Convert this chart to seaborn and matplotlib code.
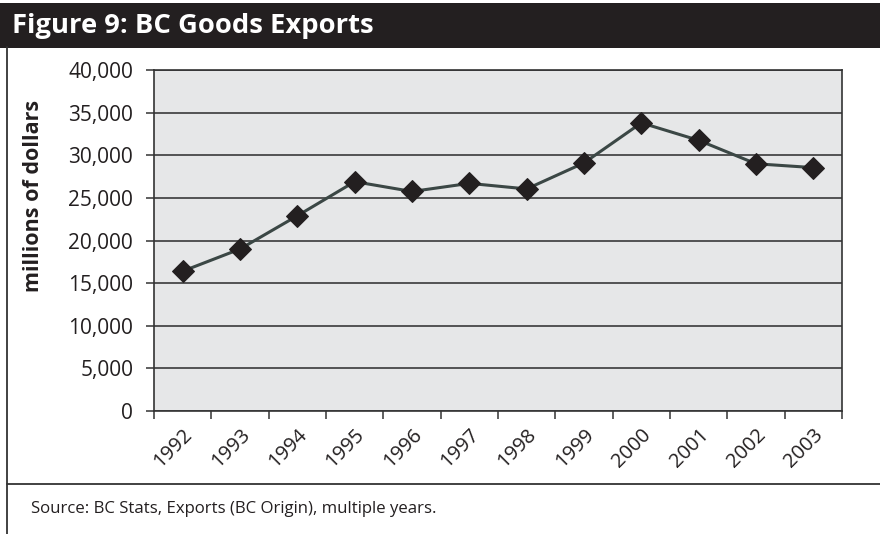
import matplotlib
matplotlib.use("Agg")
import matplotlib.pyplot as plt
from matplotlib.lines import Line2D
from matplotlib.patches import Rectangle
import seaborn as sns
import pandas as pd
import numpy as np

# BC goods exports, millions of dollars
years = ["1992", "1993", "1994", "1995", "1996", "1997",
         "1998", "1999", "2000", "2001", "2002", "2003"]
exports = [16400, 19000, 22900, 26900, 25750, 26700,
           26050, 29100, 33800, 31750, 29000, 28550]
y_ticks = [0, 5000, 10000, 15000, 20000, 25000, 30000, 35000, 40000]

title = "Figure 9: BC Goods Exports"
y_label = "millions of dollars"
source = "Source: BC Stats, Exports (BC Origin), multiple years."

sns.set_theme(style="white")
plt.rcParams["font.family"] = ["Open Sans", "DejaVu Sans"]

fig = plt.figure(figsize=(8.8, 5.34), dpi=100)
W, H = 880, 534

# header band and frame lines
fig.add_artist(Rectangle((0, 1 - 48 / H), 1, 45 / H, transform=fig.transFigure,
                         facecolor="#231f20", edgecolor="none"))
fig.text(12 / W, 1 - 26 / H, title, color="white", fontsize=19.7,
         fontweight="bold", ha="left", va="center")
fig.add_artist(Line2D([6.5 / W, 6.5 / W], [0, 1 - 47 / H], transform=fig.transFigure,
                      color="#333333", lw=1.3))
fig.add_artist(Line2D([6.5 / W, 1], [1 - 484 / H, 1 - 484 / H], transform=fig.transFigure,
                      color="#333333", lw=1.3))
fig.text(31 / W, 1 - 509 / H, source, color="#231f20", fontsize=12.1,
         ha="left", va="center")

ax = fig.add_axes([154 / W, 1 - 411 / H, (842 - 154) / W, (411 - 70) / H])
ax.set_facecolor("#e6e7e8")

df = pd.DataFrame({"year": years, "exports": exports})
df["pos"] = np.arange(len(years))

ax.set_axisbelow(True)
ax.yaxis.grid(True, color="#3a3a3a", lw=1.2)
ax.xaxis.grid(False)

sns.lineplot(data=df, x="pos", y="exports", ax=ax, color="#3b4745", lw=2.2,
             marker="D", markersize=11.5, markerfacecolor="#231f20",
             markeredgecolor="#231f20", zorder=3)

ax.set_xlim(-0.5, len(years) - 0.5)
ax.set_ylim(0, 40000)
ax.set_yticks(y_ticks)
ax.set_yticklabels([f"{v:,}" for v in y_ticks])
ax.set_xticks(df["pos"])
ax.set_xticklabels(years, rotation=45, ha="right", va="top", rotation_mode="anchor")
ax.set_xticks(np.arange(-0.5, len(years)), minor=True)

ax.tick_params(axis="y", which="major", length=6, width=1.1, color="#333333",
               labelsize=15, pad=9, labelcolor="#231f20", left=True)
ax.tick_params(axis="x", which="major", length=0, labelsize=14.5, pad=10,
               labelcolor="#231f20")
ax.tick_params(axis="x", which="minor", length=6, width=1.1, color="#333333",
               bottom=True)

for sp in ax.spines.values():
    sp.set_color("#333333")
    sp.set_linewidth(1.2)

ax.set_xlabel("")
ax.set_ylabel(y_label, fontsize=15.5, fontweight="bold", color="#231f20")
ax.yaxis.set_label_coords(-110 / (842 - 154), 0.63)

fig.savefig("out.png", dpi=100)
